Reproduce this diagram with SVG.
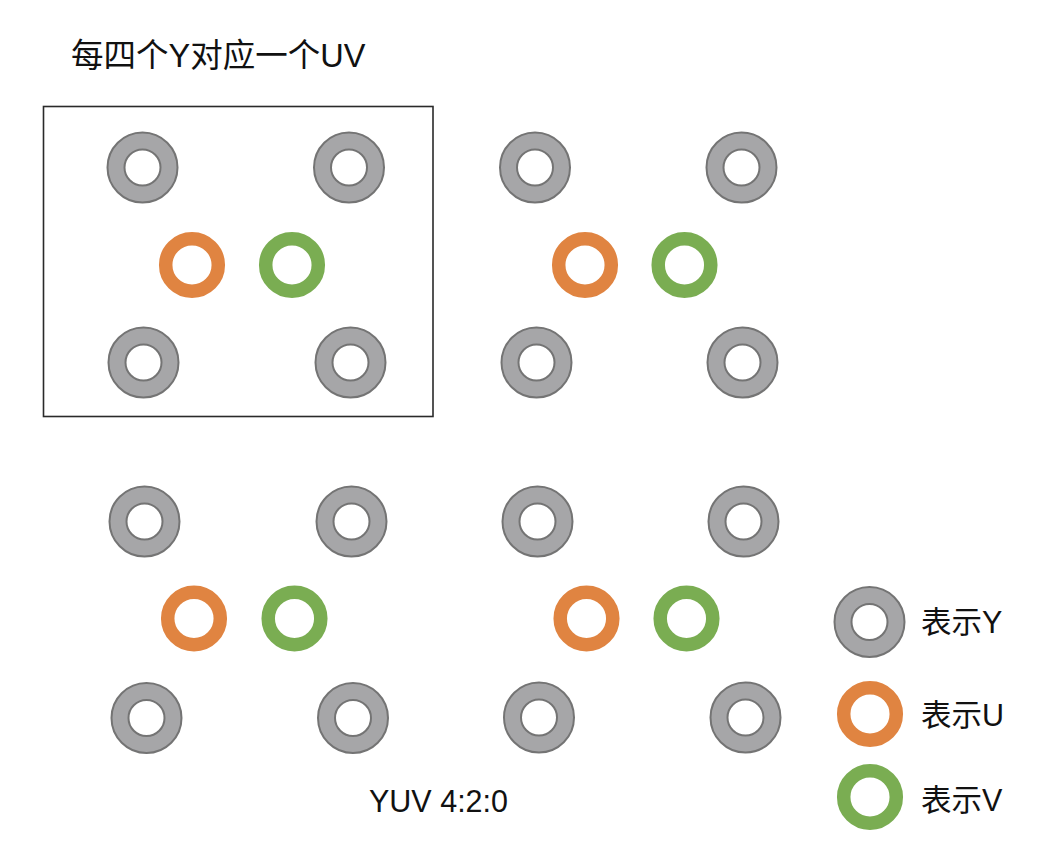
<svg xmlns="http://www.w3.org/2000/svg" width="1058" height="856" viewBox="0 0 1058 856">
<defs>
<style>
.y-o{fill:#a6a6a8;stroke:#747474;stroke-width:2}
.y-i{fill:#fff;stroke:#747474;stroke-width:2}
.u{fill:none;stroke:#e08441;stroke-width:13.5}
.v{fill:none;stroke:#7aad52;stroke-width:13.5}
.t{font-family:"Liberation Sans","Noto Sans CJK SC",sans-serif;fill:#111}
</style>
<g id="Y"><circle class="y-o" r="35"/><circle class="y-i" r="18"/></g>
<circle id="U" class="u" r="26.3"/>
<circle id="V" class="v" r="26.3"/>
</defs>
<rect width="1058" height="856" fill="#fff"/>
<text class="t" x="71" y="67" font-size="32.5">每四个Y对应一个UV</text>
<rect id="frame" x="43.5" y="106.5" width="389.5" height="310" fill="none" stroke="#2a2a2a" stroke-width="1.6"/>
<g id="block1">
<use href="#Y" x="142.5" y="167.5"/><use href="#Y" x="349" y="167.5"/>
<use href="#U" x="192" y="265"/><use href="#V" x="292" y="265"/>
<use href="#Y" x="143.5" y="362.5"/><use href="#Y" x="350.5" y="362.5"/>
</g>
<g id="block2">
<use href="#Y" x="535" y="167.5"/><use href="#Y" x="741.5" y="167.5"/>
<use href="#U" x="585" y="265"/><use href="#V" x="684.5" y="265"/>
<use href="#Y" x="536.5" y="362.5"/><use href="#Y" x="742.5" y="362.5"/>
</g>
<g id="block3">
<use href="#Y" x="144.5" y="521.5"/><use href="#Y" x="351.5" y="521.5"/>
<use href="#U" x="194" y="618.5"/><use href="#V" x="294.5" y="618.5"/>
<use href="#Y" x="146.5" y="718"/><use href="#Y" x="353" y="718"/>
</g>
<g id="block4">
<use href="#Y" x="537.5" y="521.5"/><use href="#Y" x="743.5" y="521.5"/>
<use href="#U" x="586.5" y="618.5"/><use href="#V" x="686.5" y="618.5"/>
<use href="#Y" x="539" y="717.5"/><use href="#Y" x="745.5" y="717.5"/>
</g>
<text class="t" x="369" y="812" font-size="30.5">YUV 4:2:0</text>
<g id="legend-y"><use href="#Y" x="869.5" y="622"/><text class="t" x="921" y="633" font-size="30.5">表示Y</text></g>
<g id="legend-u"><use href="#U" x="870" y="714"/><text class="t" x="921" y="726" font-size="30.5">表示U</text></g>
<g id="legend-v"><use href="#V" x="870" y="797"/><text class="t" x="921" y="811" font-size="30.5">表示V</text></g>
</svg>
